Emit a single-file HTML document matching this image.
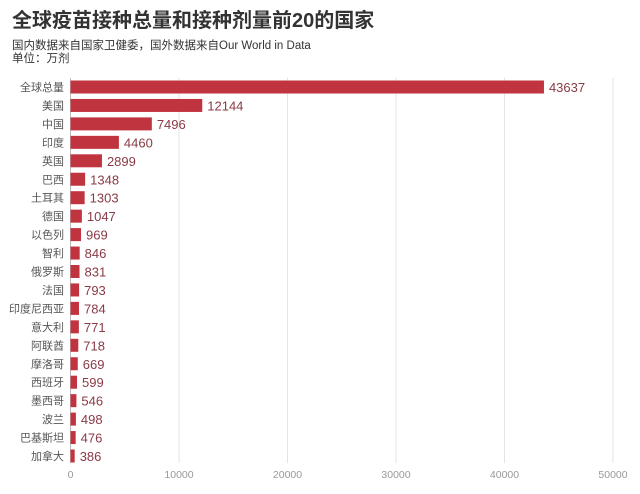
<!DOCTYPE html>
<html><head><meta charset="utf-8">
<style>
body{margin:0;background:#fff;width:640px;height:489px;overflow:hidden;font-family:"Liberation Sans","Noto Sans CJK SC",sans-serif;}
</style></head>
<body>
<svg width="640" height="489" xmlns="http://www.w3.org/2000/svg">
<text x="12" y="27" font-size="20" font-weight="bold" fill="#333" font-family="Liberation Sans,Noto Sans CJK SC,sans-serif">全球疫苗接种总量和接种剂量前20的国家</text>
<text x="12" y="49" font-size="11.5" fill="#333" font-family="Liberation Sans,Noto Sans CJK SC,sans-serif">国内数据来自国家卫健委，国外数据来自Our World in Data</text>
<text x="12" y="62" font-size="11.5" fill="#333" font-family="Liberation Sans,Noto Sans CJK SC,sans-serif">单位：万剂</text>
<g id="grid"></g><g id="bars"></g><g id="xticks"></g>
</svg>
<script>
const categories=["全球总量","美国","中国","印度","英国","巴西","土耳其","德国","以色列","智利","俄罗斯","法国","印度尼西亚","意大利","阿联酋","摩洛哥","西班牙","墨西哥","波兰","巴基斯坦","加拿大"];
const values=[43637,12144,7496,4460,2899,1348,1303,1047,969,846,831,793,784,771,718,669,599,546,498,476,386];
const tickValues=[0,10000,20000,30000,40000,50000];
const NS="http://www.w3.org/2000/svg";
const x0=70.5, pxPer=108.5/10000;
const xs=v=>x0+v*pxPer;
const yTop=80.5, step=18.45, bh=13;
const ys=i=>yTop+i*step;
function mk(t,a){const e=document.createElementNS(NS,t);for(const k in a)e.setAttribute(k,a[k]);return e;}
const grid=document.getElementById('grid'),bars=document.getElementById('bars'),xt=document.getElementById('xticks');
tickValues.forEach(v=>{
 const l=mk('line',{x1:xs(v),x2:xs(v),y1:78,y2:463,stroke:v===0?'#bbb':'#e3e3e3','stroke-width':1});
 
 
 grid.appendChild(l);
 const t=mk('text',{x:xs(v),y:478,'font-size':10.5,fill:'#999','text-anchor':'middle'});
 t.textContent=v;
 
 
 xt.appendChild(t);
});
categories.forEach((c,i)=>{
 const y=ys(i);
 const lab=mk('text',{x:64,y:y+bh/2+4,'font-size':11,fill:'#555','text-anchor':'end'});
 lab.textContent=c;
 
 
 bars.appendChild(lab);
 const r=mk('rect',{x:x0,y:y,width:Math.max(1,xs(values[i])-x0),height:bh,fill:'#c0343f'});
 
 
 bars.appendChild(r);
 const vt=mk('text',{x:xs(values[i])+5,y:y+bh/2+5,'font-size':13,fill:'#8a3a45'});
 vt.textContent=values[i];
 
 
 bars.appendChild(vt);
});
</script>
</body></html>
